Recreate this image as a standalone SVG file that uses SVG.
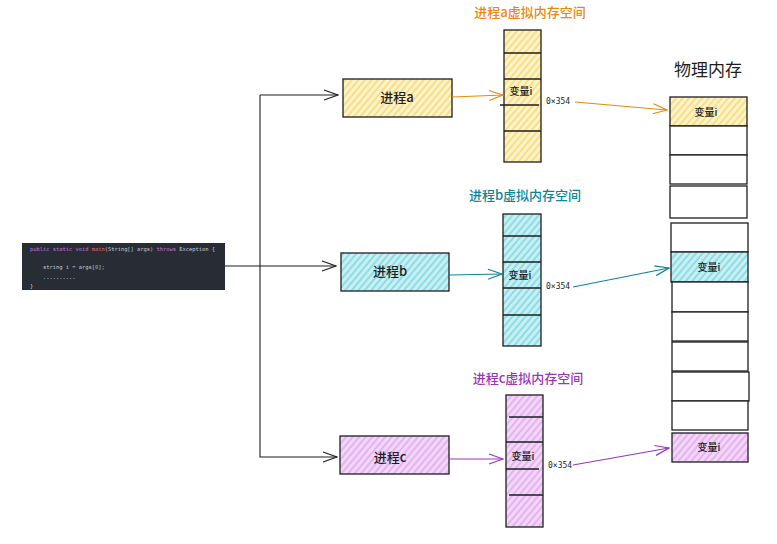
<svg xmlns="http://www.w3.org/2000/svg" width="777" height="544" viewBox="0 0 777 544">
<defs>
<pattern id="hy" width="5" height="5" patternUnits="userSpaceOnUse" patternTransform="rotate(40)"><rect width="5" height="5" fill="#fff4c8"/><line x1="1" y1="0" x2="1" y2="5" stroke="#f2c94c" stroke-width="1"/></pattern>
<pattern id="ht" width="5" height="5" patternUnits="userSpaceOnUse" patternTransform="rotate(40)"><rect width="5" height="5" fill="#c5f0f4"/><line x1="1" y1="0" x2="1" y2="5" stroke="#5fc7d4" stroke-width="1"/></pattern>
<pattern id="hp" width="5" height="5" patternUnits="userSpaceOnUse" patternTransform="rotate(40)"><rect width="5" height="5" fill="#f3d6fa"/><line x1="1" y1="0" x2="1" y2="5" stroke="#d293e6" stroke-width="1"/></pattern>
<marker id="mk" markerWidth="16" markerHeight="12" refX="15" refY="6" orient="auto" markerUnits="userSpaceOnUse"><path d="M1,1 L15,6 L1,11" fill="none" stroke="#1e1e1e" stroke-width="1.2"/></marker>
<marker id="mo" markerWidth="16" markerHeight="12" refX="15" refY="6" orient="auto" markerUnits="userSpaceOnUse"><path d="M1,1 L15,6 L1,11" fill="none" stroke="#e8890c" stroke-width="1.2"/></marker>
<marker id="mt" markerWidth="16" markerHeight="12" refX="15" refY="6" orient="auto" markerUnits="userSpaceOnUse"><path d="M1,1 L15,6 L1,11" fill="none" stroke="#0c8599" stroke-width="1.2"/></marker>
<marker id="mp" markerWidth="16" markerHeight="12" refX="15" refY="6" orient="auto" markerUnits="userSpaceOnUse"><path d="M1,1 L15,6 L1,11" fill="none" stroke="#9c36b5" stroke-width="1.2"/></marker>
</defs>
<style>
text{font-family:"Noto Sans CJK SC","Noto Sans",sans-serif}
.cell{stroke:#1e1e1e;stroke-width:1.3}
.pl{font-size:13px;fill:#1e1e1e;text-anchor:middle;font-weight:500}
.vl{font-size:10px;fill:#1e1e1e;text-anchor:middle;font-weight:500}
.ttl{font-size:13px;text-anchor:middle;font-weight:500}
.addr{font-family:"DejaVu Sans Mono",monospace;font-size:8px;fill:#1e1e1e}
.code{font-family:"DejaVu Sans Mono",monospace;font-size:5.4px;fill:#c8ccd4}
.kw{fill:#c678dd}
.fn{fill:#e06c75}
.cn{fill:none;stroke-width:1.1}
</style>
<rect width="777" height="544" fill="#ffffff"/>

<g id="code">
<rect x="22" y="243" width="203" height="47" fill="#282c34"/>
<text class="code" x="30" y="251"><tspan class="kw">public static void</tspan> <tspan class="fn">main</tspan>(String[] args) <tspan class="kw">throws</tspan> Exception {</text>
<text class="code" x="43" y="269">string i = args[<tspan fill="#98c379">0</tspan>];</text>
<text class="code" x="43" y="279">..........</text>
<text class="code" x="30" y="288">}</text>
</g>

<g id="proc-a"><rect class="cell" x="343" y="79" width="109" height="38" fill="url(#hy)"/><text class="pl" x="397" y="102">进程a</text></g>
<g id="proc-b"><rect class="cell" x="341" y="253" width="108" height="38" fill="url(#ht)"/><text class="pl" x="390" y="276">进程b</text></g>
<g id="proc-c"><rect class="cell" x="340" y="436" width="109" height="38" fill="url(#hp)"/><text class="pl" x="390" y="462">进程c</text></g>

<g id="vm-a">
<text class="ttl" x="530" y="17" fill="#e8890c">进程a虚拟内存空间</text>
<rect class="cell" x="504" y="30" width="37" height="132" fill="url(#hy)"/>
<path class="cell" d="M504,53 H541 M504,79 H541 M500,105 H539 M504,131 H541"/>
<text class="vl" x="521" y="95">变量i</text>
<text class="addr" x="546" y="104">0×354</text>
</g>
<g id="vm-b">
<text class="ttl" x="525" y="200" fill="#0c8599">进程b虚拟内存空间</text>
<rect class="cell" x="503" y="214" width="38" height="132" fill="url(#ht)"/>
<path class="cell" d="M503,236 H541 M503,262 H541 M503,288 H541 M503,315 H541"/>
<text class="vl" x="520" y="279">变量i</text>
<text class="addr" x="546" y="289">0×354</text>
</g>
<g id="vm-c">
<text class="ttl" x="528" y="383" fill="#9c36b5">进程c虚拟内存空间</text>
<rect class="cell" x="506" y="395" width="37" height="132" fill="url(#hp)"/>
<path class="cell" d="M509,417 H543 M506,442 H543 M506,469 H539 M509,495 H543"/>
<text class="vl" x="523" y="460">变量i</text>
<text class="addr" x="548" y="468">0×354</text>
</g>

<g id="phys">
<text x="708" y="76" font-size="17" fill="#1e1e1e" text-anchor="middle">物理内存</text>
<rect class="cell" x="670" y="97" width="77" height="29" fill="url(#hy)"/>
<text class="vl" x="706" y="116" font-size="11">变量i</text>
<rect class="cell" x="670" y="126" width="77" height="29" fill="#fff"/>
<rect class="cell" x="670" y="155" width="77" height="29" fill="#fff"/>
<rect class="cell" x="670" y="186" width="77" height="32" fill="#fff"/>
<rect class="cell" x="671" y="223" width="77" height="29" fill="#fff"/>
<rect class="cell" x="671" y="252" width="77" height="30" fill="url(#ht)"/>
<text class="vl" x="709" y="271" font-size="11">变量i</text>
<rect class="cell" x="672" y="282" width="76" height="30" fill="#fff"/>
<rect class="cell" x="672" y="312" width="76" height="29" fill="#fff"/>
<rect class="cell" x="672" y="342" width="76" height="29" fill="#fff"/>
<rect class="cell" x="672" y="372" width="77" height="29" fill="#fff"/>
<rect class="cell" x="672" y="401" width="76" height="29" fill="#fff"/>
<rect class="cell" x="672" y="433" width="76" height="29" fill="url(#hp)"/>
<text class="vl" x="709" y="451" font-size="11">变量i</text>
</g>

<g id="connectors">
<path class="cn" stroke="#1e1e1e" d="M225,266 H260 M260,266 V95"/>
<path class="cn" stroke="#1e1e1e" d="M260,95 H338" marker-end="url(#mk)"/>
<path class="cn" stroke="#1e1e1e" d="M260,266 H336" marker-end="url(#mk)"/>
<path class="cn" stroke="#1e1e1e" d="M260,266 V457 H337" marker-end="url(#mk)"/>
<path class="cn" stroke="#e8890c" d="M452,97 L503,95" marker-end="url(#mo)"/>
<path class="cn" stroke="#e8890c" d="M575,102 L667,110" marker-end="url(#mo)"/>
<path class="cn" stroke="#0c8599" d="M449,275 L502,274" marker-end="url(#mt)"/>
<path class="cn" stroke="#0c8599" d="M573,287 L669,268" marker-end="url(#mt)"/>
<path class="cn" stroke="#9c36b5" d="M449,459 L503,459" marker-end="url(#mp)"/>
<path class="cn" stroke="#9c36b5" d="M573,465 L669,448" marker-end="url(#mp)"/>
</g>
</svg>
